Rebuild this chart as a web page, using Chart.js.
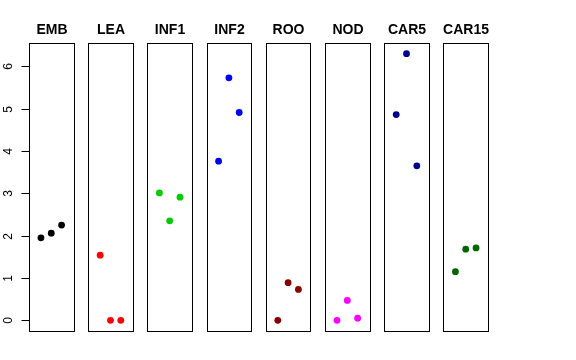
<!DOCTYPE html>
<html>
<head>
<meta charset="utf-8">
<script src="https://cdn.jsdelivr.net/npm/chart.js@4/dist/chart.umd.min.js"></script>
<style>
  html, body { margin: 0; padding: 0; background: #fff; }
</style>
</head>
<body>
<canvas id="chart" width="576" height="360"></canvas>
<script>
// data
const tissues = ['EMB', 'LEA', 'INF1', 'INF2', 'ROO', 'NOD', 'CAR5', 'CAR15'];
const colors = ['#000000', '#FF0000', '#00CD00', '#0000FF', '#8B0000', '#FF00FF', '#00008B', '#006400'];
const reps = [1, 2, 3];
const emb = [1.95, 2.06, 2.25];
const lea = [1.54, 0.0, 0.0];
const inf1 = [3.01, 2.35, 2.91];
const inf2 = [3.76, 5.73, 4.91];
const roo = [0.0, 0.89, 0.73];
const nod = [0.0, 0.47, 0.05];
const car5 = [4.86, 6.30, 3.65];
const car15 = [1.15, 1.68, 1.71];
const values = [emb, lea, inf1, inf2, roo, nod, car5, car15];
const yTicks = [0, 1, 2, 3, 4, 5, 6];

// each panel covers -0.16..4.16 in its own units, panels are STEP apart
const STEP = 5.742;
const PAD = 0.16;

const datasets = tissues.map((t, i) => ({
    label: t,
    data: reps.map((r, j) => ({ x: i * STEP + r, y: values[i][j] })),
    backgroundColor: colors[i],
    borderColor: colors[i],
    pointRadius: 3.4,
    pointBorderWidth: 0
}));

// boxes, titles and the y axis (ticks + rotated labels)
const panels = {
    id: 'panels',
    beforeDatasetsDraw(chart) {
        const { ctx, chartArea, scales: { x, y } } = chart;
        ctx.save();
        ctx.strokeStyle = '#000';
        ctx.lineWidth = 1;
        tissues.forEach((t, i) => {
            const l = Math.round(x.getPixelForValue(i * STEP - PAD)) + 0.5;
            const r = Math.round(x.getPixelForValue(i * STEP + 4 + PAD)) + 0.5;
            const top = Math.round(chartArea.top) + 0.5;
            const bot = Math.round(chartArea.bottom) + 0.5;
            ctx.strokeRect(l, top, r - l, bot - top);

            ctx.fillStyle = '#000';
            ctx.font = 'bold 14px "Liberation Sans", Arial, sans-serif';
            ctx.textAlign = 'center';
            ctx.textBaseline = 'alphabetic';
            ctx.fillText(t, (l + r) / 2, 34);
        });

        const ax = Math.round(chartArea.left) + 0.5;
        ctx.font = '12px "Liberation Sans", Arial, sans-serif';
        ctx.textAlign = 'center';
        ctx.textBaseline = 'alphabetic';
        yTicks.forEach(v => {
            const py = Math.round(y.getPixelForValue(v)) + 0.5;
            ctx.beginPath();
            ctx.moveTo(ax - 8, py);
            ctx.lineTo(ax, py);
            ctx.stroke();
            ctx.save();
            ctx.translate(12, py);
            ctx.rotate(-Math.PI / 2);
            ctx.fillText(String(v), 0, 0);
            ctx.restore();
        });
        ctx.restore();
    }
};

new Chart(document.getElementById('chart'), {
    type: 'scatter',
    data: { datasets },
    options: {
        responsive: false,
        animation: false,
        devicePixelRatio: 1,
        layout: { padding: { top: 43, bottom: 29, right: 88, left: 0 } },
        plugins: { legend: { display: false }, tooltip: { enabled: false } },
        scales: {
            x: {
                type: 'linear',
                display: false,
                min: -PAD,
                max: (tissues.length - 1) * STEP + 4 + PAD
            },
            y: {
                type: 'linear',
                position: 'left',
                min: -0.252,
                max: 6.552,
                bounds: 'data',
                afterFit: s => { s.width = 29; },
                border: { display: false },
                grid: { display: false },
                ticks: { display: false, stepSize: 1 }
            }
        }
    },
    plugins: [panels]
});
</script>
</body>
</html>
